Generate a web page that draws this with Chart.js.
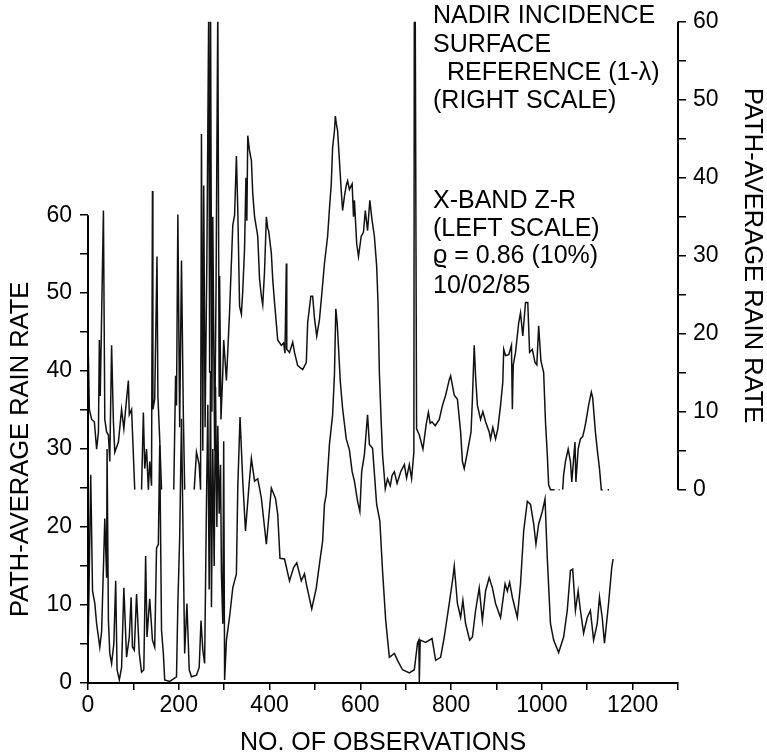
<!DOCTYPE html>
<html>
<head>
<meta charset="utf-8">
<script src="https://cdn.jsdelivr.net/npm/chart.js@4/dist/chart.umd.min.js"></script>
<style>
  body{margin:0;background:#fff;}
  .wrap{width:767px;height:755px;}
</style>
</head>
<body>
<div class="wrap"><canvas id="myChart"></canvas></div>
<script>
// X-band Z-R path-average rain rate (left scale)
const zrObs=[0,6,10,15,19,26,30,34,37,41,42,45,48,52,57,61,64,69,74,79,85,91,95,98,102,107,113,118,123,127,130,136,142,147,151,155,158,162,166,169,180,195,198,202,206,213,218,223,228,239,245,249,253,257,261,264,267,270,272,275,278,281,284,286,289,292,294,297,299,301,305,312,319,327,330,335,341,347,355,360,367,374,382,393,404,413,418,423,433,444,453,460,470,477,481,493,503,511,517,521,525,532,539,543,546,549,552,556,561,569,576,582,587,594,599,603,609,616,620,627,636,643,649,656,664,675,682,693,708,719,726,729,730,732,744,758,766,777,785,796,804,807,814,821,826,832,841,847,854,862,869,876,884,891,898,909,919,924,929,935,946,953,960,968,975,982,987,993,1001,1007,1012,1019,1026,1037,1048,1056,1063,1068,1074,1080,1085,1092,1100,1107,1114,1122,1127,1133,1138,1147,1154,1157];
const zrRate=[3.3,26.7,11.8,10.2,7.6,4.6,6.6,14.8,21.1,13.5,30,8,3.8,2.5,5.1,13.1,1.7,0.4,2,12.2,3.3,5.9,11,4.6,4.2,11.4,3.8,1.4,1.7,16.3,5.9,10.8,5.5,4.6,17.3,17.8,30.5,6.8,3.8,0.4,0.2,0.8,10.2,18.6,33.9,3.8,10.2,1.7,0.8,1,2,8,4.2,2.5,22.9,35.7,12,40,9.7,30,15,38,20,33,21.7,28,14,7.6,31,0.4,5.5,8.5,12.2,14,25,34.1,25.9,19.5,25.5,28.8,25.9,26.2,23.7,17.8,25,23.7,21.7,16,15.9,13.1,14.8,15.4,13.1,14,12.7,9.5,12.2,15.7,18.2,22.9,24.2,30.6,34.4,39.5,48,46.2,43,38.6,35.2,31.3,29.9,27.1,25.9,23.3,22,27.1,29.3,34.4,30.6,30.1,22.9,20.8,14.4,8,3.3,3.8,2.9,1.7,1.3,1.7,5.1,5.5,0.1,5.5,5.2,5.7,2.9,3.3,5.9,10.2,13.5,15,10.2,8.4,10.6,7.6,5.5,5.9,9.3,12.2,8,11.8,13.5,12.2,10.2,8.4,12.7,11.8,12.9,11,8.4,12.7,19.5,23.3,22.9,20.4,17.8,20.4,22,23.6,16,7.6,5.5,3.9,5.9,9.3,14.4,14.6,9.3,11.8,9.3,6.4,8.4,9.3,5.5,7.6,11,8.4,5.1,10.2,14.8,15.9];

// nadir incidence surface reference (right scale), null = no trace
const srtObs=[0,3,8,14,19,23,25,27,34,37,41,45,48,52,56,59,67,74,79,84,89,91,96,103,110,118,122,125,129,133,136,140,142,143,147,152,154,158,162,168,189,193,195,198,202,206,210,213,220,234,239,245,248,250,253,255,258,262,266,268,270,273,275,279,282,286,289,290,293,297,299,305,308,312,319,323,327,330,334,338,341,345,348,350,352,356,360,363,367,374,378,382,385,389,393,396,398,404,407,411,418,426,431,434,437,438,444,451,455,462,473,481,484,491,495,499,504,510,515,521,528,532,536,539,543,545,547,550,554,558,561,565,569,572,576,582,585,587,592,596,602,607,611,616,621,626,631,636,639,642,646,649,655,660,666,670,675,681,689,697,702,708,713,718,719,721,724,730,738,745,750,754,758,765,774,781,788,796,799,807,814,821,825,829,836,844,847,851,854,858,865,870,876,884,887,892,898,903,909,914,916,920,927,933,935,937,942,949,953,958,964,969,973,979,985,989,993,998,1004,1008,1012,1015,1019,1028,1033,1037,1039,1042,1046,1048,1052,1058,1063,1066,1073,1075,1080,1085,1090,1094,1097,1103,1109,1112,1118,1122,1127,1131,1134,1137,1145,1148];
const srtRate=[19.5,10.3,9,8.7,5.2,7.4,19.2,12,35.8,9,7.4,7,3.6,18.5,8.7,4.8,6.1,10.3,7.8,11,14,9.6,10.3,0,null,0,9.9,2.7,5.2,0,3.6,0.5,38.3,10.3,11.6,29.9,12,6.5,0,null,0,14.6,10.8,35.3,8,29.4,9.9,0,null,0,4.8,3.2,0,45.6,5,39,8,30,62,15,62,10,35,5,25,62,12,27.4,9,15,19.2,14,17.8,22.9,33.9,35.2,42.8,36,23.5,22.5,25.5,31,40,34.5,45.4,43.4,42.2,38,35,32.5,27,24.8,23.7,28,35,33.5,33.2,30.3,27,24,19.2,18.5,18.8,17.5,29,18,17.6,18.9,17.6,15.9,15.4,16.3,21.4,24.8,24.8,22,19.7,21.8,25,29,32.5,36,39.2,43.9,46,47.9,47,46,42.2,38.3,35.8,37.6,39,39.6,38.5,39.2,35,37.1,31.6,29.9,32.5,33,35.8,33.2,37.1,34.5,32.5,28.7,24,15,8.7,4.5,0.1,1.4,0.5,1.8,2.3,0.8,2.3,3.2,1.5,3.2,1.4,4.8,62,62,7.8,7,5.2,8.3,9.9,8.5,8.7,8.2,9,10.8,12.1,14.1,14.6,12.1,11.6,7.4,3.6,2.7,4.8,7.4,11.6,18.5,14.5,10.8,9,10,8.7,7.4,6.5,8,6.5,7.8,10.8,13.8,18,17.2,17.3,18.5,10.3,16,17.6,21.4,22.7,19.7,24,24,17.6,18,16.3,16,21,16.5,15,8.7,4.5,0.6,0,0,null,0,0,null,0,1.9,3.6,5.2,3.6,1,6.1,1,5.2,6.5,6.8,7.8,8.7,10.8,12.5,11.8,7.4,5.2,2.7,0,0,null,0,0];

const xTicks=[0,100,200,300,400,500,600,700,800,900,1000,1100,1200,1300];
const leftTicks=[0,5,10,15,20,25,30,35,40,45,50,55,60];
const rightTicks=[0,5,10,15,20,25,30,35,40,45,50,55,60];

const notes=[
  ["NADIR INCIDENCE",433,23],
  ["SURFACE",433,52],
  ["REFERENCE (1-\u03bb)",447,80],
  ["(RIGHT SCALE)",433,108],
  ["X-BAND Z-R",433,208],
  ["(LEFT SCALE)",433,236],
  ["\u03f1 = 0.86 (10%)",433,263],
  ["10/02/85",433,293]
];

const FONT="'Liberation Sans', Arial, Helvetica, sans-serif";
const tickFont={family:FONT,size:23};

const toPoints=(xs,ys)=>xs.map((x,i)=>({x:x,y:ys[i]}));

const overlay={
  id:'overlay',
  afterDraw(chart){
    const ctx=chart.ctx;
    const yL=chart.scales.y, yR=chart.scales.y2;
    ctx.save();
    ctx.strokeStyle='#000';
    ctx.lineWidth=2;
    ctx.beginPath();
    ctx.moveTo(yL.right,yL.getPixelForValue(0)+1);
    ctx.lineTo(yL.right,yL.getPixelForValue(60));
    ctx.moveTo(yR.left,yR.getPixelForValue(0));
    ctx.lineTo(yR.left,yR.getPixelForValue(60));
    ctx.stroke();

    ctx.fillStyle='#000';
    ctx.textBaseline='alphabetic';
    ctx.textAlign='left';
    ctx.font="25px "+FONT;
    notes.forEach(n=>ctx.fillText(n[0],n[1],n[2]));

    ctx.font="25px "+FONT;
    ctx.textAlign='center';
    ctx.fillText("NO. OF OBSERVATIONS",(chart.chartArea.left+chart.chartArea.right)/2,750);

    ctx.textAlign='left';
    ctx.font="25.5px "+FONT;
    ctx.save();
    ctx.translate(28,617);
    ctx.rotate(-Math.PI/2);
    ctx.fillText("PATH-AVERAGE RAIN RATE",0,0);
    ctx.restore();

    ctx.save();
    ctx.translate(745,88);
    ctx.rotate(Math.PI/2);
    ctx.fillText("PATH-AVERAGE RAIN RATE",0,0);
    ctx.restore();
    ctx.restore();
  }
};

const ctx=document.getElementById('myChart').getContext('2d');
const myChart=new Chart(ctx,{
  type:'line',
  data:{
    datasets:[
      {
        label:'X-BAND Z-R',
        data:toPoints(zrObs,zrRate),
        yAxisID:'y',
        borderColor:'#111',
        borderWidth:1.5,
        pointRadius:0,
        tension:0,
        spanGaps:false
      },
      {
        label:'NADIR INCIDENCE SURFACE REFERENCE',
        data:toPoints(srtObs,srtRate),
        yAxisID:'y2',
        borderColor:'#111',
        borderWidth:1.5,
        pointRadius:0,
        tension:0,
        spanGaps:false
      }
    ]
  },
  options:{
    responsive:true,
    maintainAspectRatio:false,
    animation:false,
    layout:{padding:{top:17,left:0,right:0,bottom:0}},
    plugins:{legend:{display:false},tooltip:{enabled:false}},
    scales:{
      x:{
        type:'linear',
        min:0,max:1300,
        afterBuildTicks:s=>{s.ticks=xTicks.map(v=>({value:v}));},
        afterFit:s=>{s.height=72;},
        ticks:{autoSkip:false,maxRotation:0,padding:2,color:'#000',font:tickFont,
          callback:v=>v%200===0?String(v):''},
        grid:{drawOnChartArea:false,drawTicks:true,tickLength:7,color:'#000',lineWidth:1.5},
        border:{display:true,color:'#000',width:2}
      },
      y:{
        type:'linear',
        position:'left',
        min:0,max:84.8,
        afterBuildTicks:s=>{s.ticks=leftTicks.map(v=>({value:v}));},
        afterFit:s=>{s.width=88;},
        ticks:{autoSkip:false,padding:8,color:'#000',font:tickFont,
          callback:v=>v%10===0?String(v):''},
        grid:{drawOnChartArea:false,drawTicks:true,tickLength:8,color:'#000',lineWidth:1.5},
        border:{display:false}
      },
      y2:{
        type:'linear',
        position:'right',
        min:-24.8,max:60,
        afterBuildTicks:s=>{s.ticks=rightTicks.map(v=>({value:v}));},
        afterFit:s=>{s.width=89;},
        ticks:{autoSkip:false,padding:7,color:'#000',font:tickFont,
          callback:v=>v%10===0?String(v):''},
        grid:{drawOnChartArea:false,drawTicks:true,tickLength:8,color:'#000',lineWidth:1.5},
        border:{display:false}
      }
    }
  },
  plugins:[overlay]
});
</script>
</body>
</html>
